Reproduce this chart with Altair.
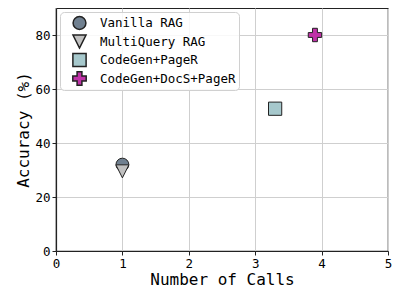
import altair as alt
import pandas as pd

methods = ["Vanilla RAG", "MultiQuery RAG", "CodeGen+PageR", "CodeGen+DocS+PageR"]
calls = [1, 1, 3.3, 3.9]
accuracy = [32, 29.5, 52.7, 80]
colors = ["#708090", "#C0C0C0", "#A6C8CC", "#C032A8"]
tri_down = "M-1,-1 L1,-1 L0,1 Z"
plus = ("M-0.36,-1 L0.36,-1 L0.36,-0.36 L1,-0.36 L1,0.36 L0.36,0.36 L0.36,1 "
        "L-0.36,1 L-0.36,0.36 L-1,0.36 L-1,-0.36 L-0.36,-0.36 Z")
shapes = ["circle", tri_down, "square", plus]
sizes = [165, 180, 165, 250]

df = pd.DataFrame({"method": methods, "calls": calls, "acc": accuracy})

FONT = "DejaVu Sans Mono"
leg = alt.Legend(title=None, orient="top-left", offset=4)

chart = alt.Chart(df).mark_point(filled=True, opacity=1, stroke="#222222", strokeWidth=1).encode(
    x=alt.X("calls:Q", title="Number of Calls",
            scale=alt.Scale(domain=[0, 5], nice=False),
            axis=alt.Axis(values=[0, 1, 2, 3, 4, 5], format="d", labelFlush=False)),
    y=alt.Y("acc:Q", title="Accuracy (%)",
            scale=alt.Scale(domain=[0, 90], nice=False),
            axis=alt.Axis(values=[0, 20, 40, 60, 80], labelFlush=False)),
    color=alt.Color("method:N", scale=alt.Scale(domain=methods, range=colors), legend=leg, sort=methods),
    shape=alt.Shape("method:N", scale=alt.Scale(domain=methods, range=shapes), legend=leg, sort=methods),
    size=alt.Size("method:N", scale=alt.Scale(domain=methods, range=sizes), legend=leg, sort=methods),
    order=alt.Order("order:Q"),
).transform_calculate(
    order="indexof(['Vanilla RAG','MultiQuery RAG','CodeGen+PageR','CodeGen+DocS+PageR'], datum.method)"
).properties(
    width=332, height=243,
    autosize=alt.AutoSizeParams(type="none"),
    padding={"left": 48, "top": 0, "right": 4, "bottom": 38},
).configure_view(
    stroke="#222222", strokeWidth=1.2
).configure_axis(
    labelFont=FONT, titleFont=FONT, labelFontSize=12.5, titleFontSize=16,
    labelColor="#000000", titleColor="#000000", titleFontWeight="normal",
    domainColor="#222222", domainWidth=1.2, tickColor="#222222", tickSize=4,
    gridColor="#cfcfcf", gridWidth=1, labelPadding=2,
).configure_axisX(
    titlePadding=2
).configure_axisY(
    titlePadding=3
).configure_legend(
    labelFont=FONT, labelFontSize=12.5, labelColor="#000000",
    fillColor="rgba(255,255,255,0.85)", strokeColor="#d0d0d0",
    cornerRadius=4, padding=3, rowPadding=2.5, clipHeight=16,
    symbolOffset=9, labelOffset=13,
)

chart.save("out.html", embed_options={"renderer": "svg", "actions": False})
